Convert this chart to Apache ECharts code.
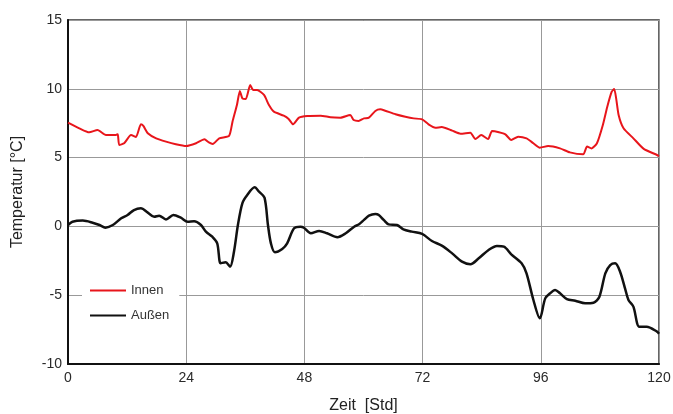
<!DOCTYPE html>
<html>
<head>
<meta charset="utf-8">
<script src="https://cdn.jsdelivr.net/npm/echarts@6/dist/echarts.min.js"></script>
<style>
html,body{margin:0;padding:0;background:#fff;}
#chart{width:673px;height:414px;}
</style>
</head>
<body>
<div id="chart"></div>
<script>
const xTicks = [0, 24, 48, 72, 96, 120];
const yTicks = [-10, -5, 0, 5, 10, 15];

const innenHours = [0,2.3,4.3,6.0,7.7,9.7,10.1,10.4,11.4,12.8,13.8,14.8,15.3,16.2,17.9,19.9,21.9,24,26,27.7,28.6,29.4,30.7,32.7,33.4,34.3,34.9,35.4,36.1,37.0,37.6,38.4,39.8,40.8,41.8,43.8,44.8,45.7,46.9,48.6,51.3,53.3,55.3,57.3,58,59,60.1,61.1,62.4,63.4,64.4,66.5,68.5,70.2,71.9,73.2,74.6,75.9,78,79.7,81.7,82.7,83.9,85.3,86.1,87.5,88.8,90,91.4,93.1,94.5,95.8,97.5,99.9,101.9,104.6,105.4,106.3,107.4,108.6,109.5,110.4,110.9,111.3,111.8,112.8,114.8,116.9,119.6,120];
const innenTemp = [7.54,7.13,6.84,7.0,6.64,6.64,6.7,5.92,6.04,6.64,6.5,7.42,7.3,6.77,6.4,6.16,5.97,5.84,6.04,6.33,6.1,5.99,6.4,6.57,7.61,8.82,9.84,9.31,9.26,10.28,9.91,9.91,9.55,8.82,8.34,8.05,7.81,7.42,7.9,8.02,8.05,7.93,7.9,8.1,7.73,7.66,7.85,7.9,8.39,8.51,8.41,8.15,7.97,7.85,7.78,7.42,7.17,7.22,6.96,6.74,6.81,6.35,6.64,6.35,6.93,6.84,6.69,6.28,6.52,6.4,6.04,5.72,5.84,5.67,5.38,5.24,5.8,5.67,6.04,7.37,8.7,9.79,9.99,9.31,8.1,7.13,6.4,5.63,5.19,5.1];

const aussenHours = [0,0.9,3,5,6.4,7.6,9.1,10.8,12.1,13.4,14.8,16.2,17.5,18.5,19.9,21.4,22.9,24.3,25.6,27,28,29.3,30.3,31,32,32.9,33.7,34.5,35.4,36.4,37.9,38.8,39.9,40.6,41.2,42,43.5,44.5,45.9,47.2,47.9,49.3,51,52.6,54.7,56.4,58.1,59.1,60.1,61.1,62.4,63.1,64.1,65.1,66.8,68.1,69.8,71.9,73.9,75.9,78,80,81.7,83.4,85.4,87.1,88.5,90,92.1,93.1,94.5,95.8,96.9,97.9,98.9,99.9,101.3,103,105,106.7,107.9,109.1,110.1,111.1,112.1,113.1,113.8,114.8,116,117.5,119.6,120];
const aussenTemp = [0.1,0.34,0.42,0.27,0.1,-0.09,0.1,0.59,0.83,1.19,1.31,1.0,0.7,0.78,0.51,0.83,0.63,0.34,0.37,0.1,-0.38,-0.75,-1.23,-2.68,-2.6,-2.93,-1.84,0.1,1.68,2.28,2.84,2.52,2.09,0.1,-1.23,-1.88,-1.64,-1.23,-0.14,-0.02,-0.1,-0.5,-0.33,-0.5,-0.79,-0.5,-0.02,0.15,0.47,0.78,0.9,0.83,0.47,0.15,0.1,-0.21,-0.38,-0.55,-1.06,-1.4,-1.96,-2.56,-2.75,-2.32,-1.71,-1.42,-1.47,-2.03,-2.68,-3.41,-5.35,-6.68,-5.23,-4.86,-4.62,-4.86,-5.28,-5.4,-5.59,-5.55,-5.11,-3.41,-2.81,-2.68,-3.29,-4.5,-5.35,-5.83,-7.29,-7.29,-7.65,-7.8];

const seriesNames = ['Innen', 'Außen'];

const zip = (a, b) => a.map((v, i) => [v, b[i]]);
const font = '"Liberation Sans", Arial, sans-serif';

const chart = echarts.init(document.getElementById('chart'), null, {renderer: 'canvas'});
chart.setOption({
  animation: false,
  backgroundColor: '#fff',
  grid: {left: 68, right: 14, top: 20, bottom: 50, outerBoundsMode: 'none', containLabel: false, show: true, borderColor: '#333', borderWidth: 1.5, backgroundColor: 'transparent'},
  legend: {
    data: seriesNames,
    orient: 'vertical',
    left: 82,
    top: 278,
    backgroundColor: '#fff',
    padding: [6, 10, 6, 8],
    itemWidth: 36,
    itemHeight: 2,
    itemGap: 12,
    icon: 'rect',
    textStyle: {fontFamily: font, fontSize: 13, color: '#333'}
  },
  xAxis: {
    type: 'value', min: xTicks[0], max: xTicks[xTicks.length - 1], interval: 24,
    name: 'Zeit  [Std]', nameLocation: 'middle', nameGap: 34,
    nameTextStyle: {fontFamily: font, fontSize: 16, color: '#222'},
    axisLine: {show: true, onZero: false, lineStyle: {color: '#111', width: 2}},
    axisTick: {show: false},
    axisLabel: {fontFamily: font, fontSize: 14, color: '#2a2a2a', margin: 7},
    splitLine: {show: true, lineStyle: {color: '#999', width: 1}}
  },
  yAxis: {
    type: 'value', min: yTicks[0], max: yTicks[yTicks.length - 1], interval: 5,
    name: 'Temperatur [°C]', nameLocation: 'middle', nameGap: 42,
    nameTextStyle: {fontFamily: font, fontSize: 16, color: '#222'},
    axisLine: {show: true, onZero: false, lineStyle: {color: '#111', width: 2}},
    axisTick: {show: false},
    axisLabel: {fontFamily: font, fontSize: 14, color: '#2a2a2a', margin: 6},
    splitLine: {show: true, lineStyle: {color: '#999', width: 1}}
  },
  series: [
    {
      name: seriesNames[0], type: 'line', data: zip(innenHours, innenTemp),
      symbol: 'none', smooth: 0.2,
      itemStyle: {color: '#e8151b'},
      lineStyle: {color: '#e8151b', width: 2}
    },
    {
      name: seriesNames[1], type: 'line', data: zip(aussenHours, aussenTemp),
      symbol: 'none', smooth: 0.3,
      itemStyle: {color: '#111'},
      lineStyle: {color: '#111', width: 2.5}
    }
  ]
});
</script>
</body>
</html>
